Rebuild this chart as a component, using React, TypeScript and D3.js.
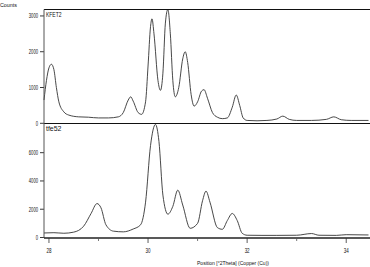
import { useEffect, useRef } from "react";
import * as d3 from "d3";

// KFET2 pattern: [2theta, counts]
const KFET2: [number, number][] = [
  [27.9, 650], [27.95, 1200], [28.0, 1550], [28.05, 1650], [28.1, 1500], [28.15, 1000],
  [28.2, 600], [28.3, 320], [28.4, 230], [28.6, 180], [28.8, 170], [29.0, 150], [29.2, 150],
  [29.4, 180], [29.5, 300], [29.6, 650], [29.65, 740], [29.7, 620], [29.8, 300], [29.87, 250],
  [29.95, 600], [30.0, 1600], [30.05, 2700], [30.08, 2920], [30.12, 2500], [30.2, 1200],
  [30.25, 920], [30.3, 1400], [30.35, 2800], [30.4, 3180], [30.45, 2500], [30.5, 1200],
  [30.55, 740], [30.62, 1000], [30.7, 1800], [30.75, 2000], [30.8, 1700], [30.87, 800],
  [30.93, 480], [31.0, 600], [31.08, 900], [31.13, 940], [31.2, 700], [31.3, 300], [31.4, 170],
  [31.5, 130], [31.6, 150], [31.7, 450], [31.78, 790], [31.85, 500], [31.92, 150], [32.0, 80],
  [32.2, 70], [32.4, 80], [32.6, 120], [32.72, 200], [32.85, 110], [33.0, 80], [33.3, 80],
  [33.6, 110], [33.75, 180], [33.9, 100], [34.1, 80], [34.45, 80],
];

// tfe52 pattern
const TFE52: [number, number][] = [
  [27.9, 320], [28.1, 340], [28.3, 300], [28.5, 380], [28.7, 800], [28.85, 1700], [28.97, 2400],
  [29.05, 2100], [29.15, 900], [29.3, 450], [29.5, 400], [29.7, 600], [29.85, 900], [29.95, 2500],
  [30.05, 6500], [30.15, 8000], [30.22, 6800], [30.3, 3000], [30.4, 1650], [30.5, 2200],
  [30.6, 3350], [30.7, 2300], [30.85, 650], [31.0, 1000], [31.1, 2600], [31.17, 3280],
  [31.25, 2500], [31.4, 700], [31.5, 580], [31.6, 1200], [31.7, 1700], [31.8, 1200], [31.9, 300],
  [32.0, 160], [32.3, 150], [32.6, 150], [33.0, 160], [33.3, 280], [33.45, 160], [33.8, 150],
  [34.0, 200], [34.45, 180],
];

const X_MAJOR = [28, 30, 32, 34];
const X_MINOR = [29, 31, 33];
const TOP_TICKS = [0, 1000, 2000, 3000];
const BOT_TICKS = [0, 2000, 4000, 6000];

const FONT = "'Liberation Sans Narrow', 'Arial Narrow', 'Liberation Sans', sans-serif";

export default function App() {
  const ref = useRef<SVGSVGElement>(null);

  useEffect(() => {
    const el = ref.current;
    if (!el) return;
    const W = 370, H = 267;
    const L = 44, R = 370;
    const svg = d3.select(el).attr("width", W).attr("height", H);
    svg.selectAll("*").remove();

    const x = d3.scaleLinear().domain([27.9, 34.48]).range([L, R]);
    const yTop = d3.scaleLinear().domain([0, 3180]).range([123.3, 9.5]);
    const yBot = d3.scaleLinear().domain([0, 8050]).range([237.5, 123.7]);

    const panels = [
      { data: KFET2, y: yTop, ticks: TOP_TICKS, name: "KFET2", top: 9.5 },
      { data: TFE52, y: yBot, ticks: BOT_TICKS, name: "tfe52", top: 123.5 },
    ];

    panels.forEach((p) => {
      const line = d3.line<[number, number]>()
        .x((d) => x(d[0])).y((d) => p.y(d[1]))
        .curve(d3.curveMonotoneX);
      svg.append("path").datum(p.data).attr("d", line)
        .attr("fill", "none").attr("stroke", "#333").attr("stroke-width", 0.9);

      const g = svg.append("g");
      g.selectAll("line").data(p.ticks).join("line")
        .attr("x1", L - 4).attr("x2", L).attr("y1", (d) => p.y(d)).attr("y2", (d) => p.y(d))
        .attr("stroke", "#222").attr("stroke-width", 0.9);
      g.selectAll("text").data(p.ticks).join("text")
        .attr("x", L - 6).attr("y", (d) => p.y(d) + 2.5).attr("text-anchor", "end")
        .attr("font-size", 7).attr("font-family", FONT).attr("fill", "#111")
        .attr("textLength", (d) => String(d).length * 2.3).attr("lengthAdjust", "spacingAndGlyphs")
        .text((d) => d);

      svg.append("text").attr("x", L + 2).attr("y", p.top + 7.5)
        .attr("font-size", 7).attr("font-family", FONT).attr("fill", "#111")
        .attr("textLength", p.name.length * 3.1).attr("lengthAdjust", "spacingAndGlyphs")
        .text(p.name);
    });

    // frame lines
    svg.append("line").attr("x1", L).attr("x2", R).attr("y1", 9.5).attr("y2", 9.5)
      .attr("stroke", "#111").attr("stroke-width", 1);
    svg.append("line").attr("x1", L).attr("x2", R).attr("y1", 123.5).attr("y2", 123.5)
      .attr("stroke", "#111").attr("stroke-width", 1);
    svg.append("line").attr("x1", L).attr("x2", L).attr("y1", 9.5).attr("y2", 238)
      .attr("stroke", "#555").attr("stroke-width", 1);
    svg.append("line").attr("x1", L).attr("x2", R).attr("y1", 238).attr("y2", 238)
      .attr("stroke", "#222").attr("stroke-width", 1.4);

    // x ticks
    const xg = svg.append("g");
    xg.selectAll("line.maj").data(X_MAJOR).join("line")
      .attr("x1", (d) => x(d)).attr("x2", (d) => x(d)).attr("y1", 238).attr("y2", 243)
      .attr("stroke", "#333").attr("stroke-width", 0.8);
    xg.selectAll("line.min").data(X_MINOR).join("line")
      .attr("x1", (d) => x(d)).attr("x2", (d) => x(d)).attr("y1", 238).attr("y2", 241)
      .attr("stroke", "#555").attr("stroke-width", 0.8);
    xg.selectAll("text").data(X_MAJOR).join("text")
      .attr("x", (d) => x(d)).attr("y", 253).attr("text-anchor", "middle")
      .attr("font-size", 7).attr("font-family", FONT).attr("fill", "#111")
      .attr("textLength", 5).attr("lengthAdjust", "spacingAndGlyphs")
      .text((d) => d);

    svg.append("text").attr("x", 197).attr("y", 265)
      .attr("font-size", 6).attr("font-family", FONT).attr("fill", "#111")
      .attr("textLength", 72).attr("lengthAdjust", "spacingAndGlyphs")
      .text("Position [°2Theta] (Copper (Cu))");

    svg.append("text").attr("x", 0).attr("y", 7)
      .attr("font-size", 6).attr("font-family", FONT).attr("fill", "#111")
      .attr("textLength", 17).attr("lengthAdjust", "spacingAndGlyphs")
      .text("Counts");
  }, []);

  return (
    <div style={{ position: "absolute", left: 0, top: 0, background: "#fff" }}>
      <svg ref={ref} role="img" aria-label="XRD patterns" style={{ display: "block" }} />
    </div>
  );
}
